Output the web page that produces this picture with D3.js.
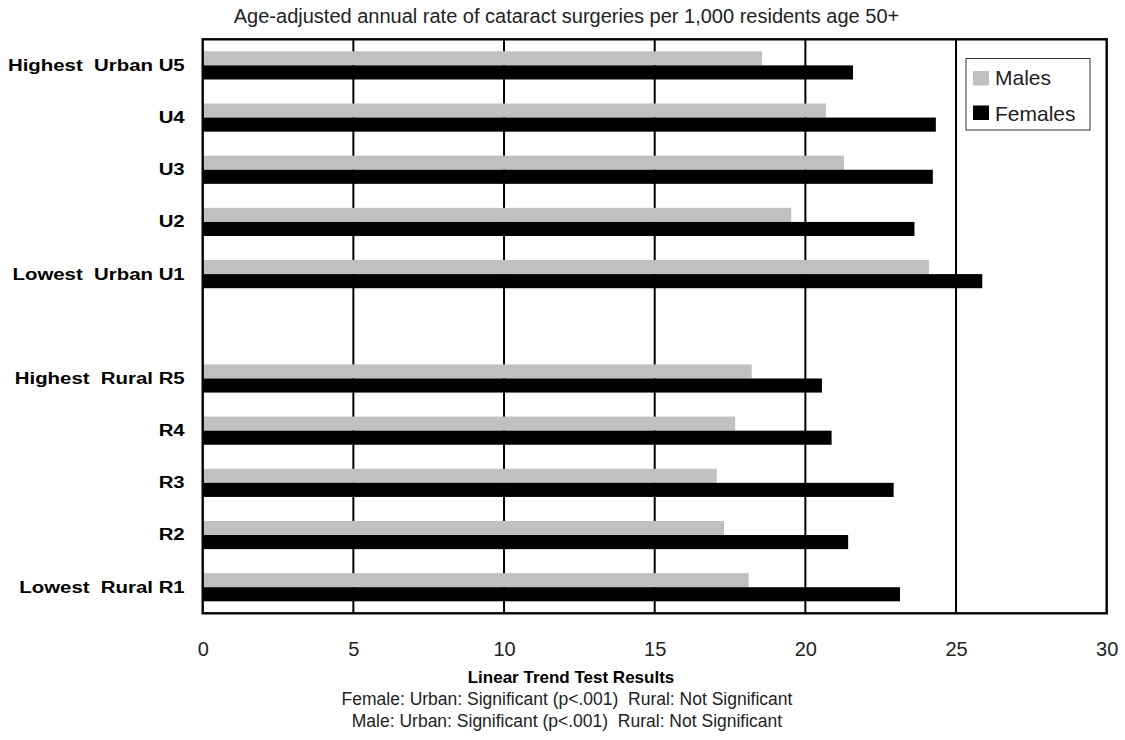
<!DOCTYPE html>
<html>
<head>
<meta charset="utf-8">
<script src="https://cdn.jsdelivr.net/npm/d3@7"></script>
<style>
  body { margin: 0; background: #fff; }
  svg { display: block; font-family: "Liberation Sans", Arial, sans-serif; }
</style>
</head>
<body>
<svg id="chart" width="1125" height="740"></svg>
<script>
// ---- data ----
const categories = ["Highest  Urban U5", "U4", "U3", "U2", "Lowest  Urban U1", "",
                    "Highest  Rural R5", "R4", "R3", "R2", "Lowest  Rural R1"];
const males   = [18.56, 20.68, 21.28, 19.53, 24.10, null, 18.22, 17.67, 17.06, 17.30, 18.12];
const females = [21.58, 24.33, 24.23, 23.62, 25.87, null, 20.55, 20.87, 22.93, 21.42, 23.14];
const seriesNames = ["Males", "Females"];
const xTicks = [0, 5, 10, 15, 20, 25, 30];
const titleText = "Age-adjusted annual rate of cataract surgeries per 1,000 residents age 50+";
const noteTitle = "Linear Trend Test Results";
const noteLines = ["Female: Urban: Significant (p<.001)  Rural: Not Significant",
                   "Male: Urban: Significant (p<.001)  Rural: Not Significant"];

// ---- layout ----
const svg = d3.select("#chart");
const pL = 202.7, pR = 1106.7, pT = 39.3, pB = 613.3;
const colors = { Males: "#c0c0c0", Females: "#000000" };

const x = d3.scaleLinear().domain([0, 30]).range([pL, pR]);
const y = d3.scaleBand().domain(d3.range(categories.length)).range([pT, pB])
  .paddingInner(0.46).paddingOuter(0.23);
const sub = d3.scaleBand().domain(seriesNames).range([0, y.bandwidth()]);

// gridlines
svg.append("g").selectAll("line").data(xTicks.slice(1, -1)).join("line")
  .attr("x1", d => x(d)).attr("x2", d => x(d))
  .attr("y1", pT).attr("y2", pB)
  .attr("stroke", "#000").attr("stroke-width", 2);

// bars
const rows = categories.map((c, i) => ({ i, Males: males[i], Females: females[i] }))
  .filter(r => r.Males != null);
const g = svg.append("g");
seriesNames.forEach(s => {
  g.selectAll(null).data(rows).join("rect")
    .attr("x", x(0))
    .attr("y", d => y(d.i) + sub(s))
    .attr("width", d => x(d[s]) - x(0))
    .attr("height", sub.bandwidth())
    .attr("fill", colors[s]);
});

// plot frame
svg.append("rect").attr("x", pL).attr("y", pT)
  .attr("width", pR - pL).attr("height", pB - pT)
  .attr("fill", "none").attr("stroke", "#000").attr("stroke-width", 2.4);

// y labels (horizontally widened like the reference's typeface)
const sx = 1.2;
const yAxis = d3.axisLeft(y).tickSize(0).tickPadding(18).tickFormat(i => categories[i]);
const ya = svg.append("g").attr("transform", `translate(${pL},0)`).call(yAxis);
ya.select(".domain").remove();
ya.selectAll("text").attr("font-size", 17).attr("font-weight", "bold")
  .attr("fill", "#000").attr("font-family", "Liberation Sans, Arial, sans-serif")
  .attr("x", -18 / sx).attr("transform", `scale(${sx},1)`)
  .style("white-space", "pre");

// x labels
const xAxis = d3.axisBottom(x).tickValues(xTicks).tickSize(0).tickPadding(0);
const xa = svg.append("g").attr("transform", `translate(0,${pB + 28})`).call(xAxis);
xa.select(".domain").remove();
xa.selectAll("text").attr("font-size", 20).attr("fill", "#222")
  .attr("font-family", "Liberation Sans, Arial, sans-serif");

// title
svg.append("text").attr("x", 566.5).attr("y", 23).attr("text-anchor", "middle")
  .attr("font-size", 20).attr("fill", "#222").text(titleText);

// notes
svg.append("text").attr("x", 571).attr("y", 683).attr("text-anchor", "middle")
  .attr("font-size", 17).attr("font-weight", "bold").attr("fill", "#000").text(noteTitle);
svg.selectAll(".note").data(noteLines).join("text").attr("class", "note")
  .attr("x", 567).attr("y", (d, i) => 705 + i * 21.5).attr("text-anchor", "middle")
  .attr("font-size", 17.5).attr("fill", "#222")
  .style("white-space", "pre").text(d => d);

// legend
const lg = svg.append("g");
lg.append("rect").attr("x", 966).attr("y", 58.5).attr("width", 124).attr("height", 71.5)
  .attr("fill", "#fff").attr("stroke", "#333").attr("stroke-width", 1);
seriesNames.forEach((s, i) => {
  lg.append("rect").attr("x", 973).attr("y", 71 + i * 34.5).attr("width", 16).attr("height", 14.5)
    .attr("fill", colors[s]);
  lg.append("text").attr("x", 995).attr("y", 85 + i * 35.5)
    .attr("font-size", 21).attr("fill", "#222").text(s);
});
</script>
</body>
</html>
